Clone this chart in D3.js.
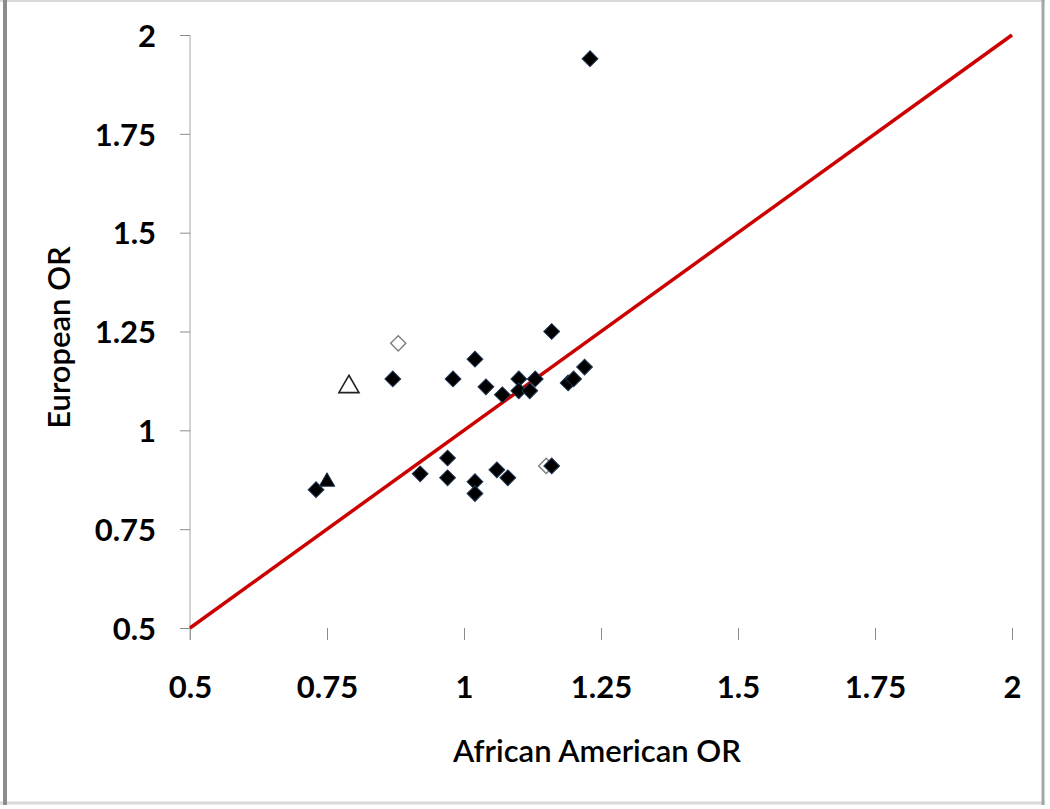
<!DOCTYPE html>
<html>
<head>
<meta charset="utf-8">
<script src="https://cdn.jsdelivr.net/npm/d3@7"></script>
<style>
  body { margin: 0; background: #fff; }
  svg { display: block; }
  .tick text { font-family: Lato, "Open Sans", sans-serif; font-weight: 700; fill: #000; }
</style>
</head>
<body>
<script>
// Values
const xTicks = [0.5, 0.75, 1, 1.25, 1.5, 1.75, 2],
    yTicks = [0.5, 0.75, 1, 1.25, 1.5, 1.75, 2];

// filled black diamonds
const snpX = [1.23, 1.16, 1.02, 0.87, 0.98, 1.04, 1.07, 1.10, 1.13, 1.10, 1.12, 1.19, 1.20, 1.22,
              0.92, 0.97, 0.97, 1.02, 1.02, 1.06, 1.08, 1.16, 0.73];
const snpY = [1.94, 1.25, 1.18, 1.13, 1.13, 1.11, 1.09, 1.13, 1.13, 1.10, 1.10, 1.12, 1.13, 1.16,
              0.89, 0.93, 0.88, 0.87, 0.84, 0.90, 0.88, 0.91, 0.85];
// open diamonds
const openDiamX = [0.88, 1.15],
    openDiamY = [1.22, 0.91];
// open triangle
const openTriX = [0.79],
    openTriY = [1.11];
// filled triangle
const fillTriX = [0.75],
    fillTriY = [0.87];

const width = 1050,
    height = 809;
const margin = {left: 190, right: 38, top: 35, bottom: 181};

const svg = d3.select('body').append('svg')
    .attr('width', width)
    .attr('height', height);

// outer frame like the pasted excel chart
svg.append('rect').attr('x', 0).attr('y', 0).attr('width', width).attr('height', height).attr('fill', '#fff');
svg.append('line').attr('x1', 0).attr('x2', 1045).attr('y1', 1).attr('y2', 1).attr('stroke', '#d9d9d9').attr('stroke-width', 2);
svg.append('line').attr('x1', 0).attr('x2', 1045).attr('y1', 803).attr('y2', 803).attr('stroke', '#d9d9d9').attr('stroke-width', 3);
svg.append('line').attr('x1', 5).attr('x2', 5).attr('y1', 0).attr('y2', 805).attr('stroke', '#8c8c8c').attr('stroke-width', 4);
svg.append('line').attr('x1', 1043).attr('x2', 1043).attr('y1', 0).attr('y2', 805).attr('stroke', '#a6a6a6').attr('stroke-width', 3);

const x = d3.scaleLinear()
    .domain([0.5, 2])
    .range([margin.left, width - margin.right]);
const y = d3.scaleLinear()
    .domain([0.5, 2])
    .range([height - margin.bottom, margin.top]);

// x axis: ticks only, no baseline
const xAxis = svg.append('g')
    .attr('transform', 'translate(0,' + y(0.5) + ')')
    .call(d3.axisBottom(x).tickValues(xTicks).tickFormat(d3.format('')).tickSize(12).tickPadding(36));
xAxis.select('.domain').remove();
xAxis.selectAll('.tick line').attr('stroke', '#8c8c8c');
xAxis.selectAll('.tick text').attr('font-size', 31);

// y axis
const yAxis = svg.append('g')
    .attr('transform', 'translate(' + x(0.5) + ',0)')
    .call(d3.axisLeft(y).tickValues(yTicks).tickFormat(d3.format('')).tickSize(10).tickSizeOuter(0).tickPadding(24));
yAxis.select('.domain').attr('stroke', '#a6a6a6').attr('d', 'M0,' + y(2) + 'V' + (y(0.5) + 12));
yAxis.selectAll('.tick line').attr('stroke', '#8c8c8c');
yAxis.selectAll('.tick text').attr('font-size', 31).attr('dy', '0.36em');

// axis titles
svg.append('text')
    .attr('x', (x(0.5) + x(2)) / 2 - 4)
    .attr('y', 762)
    .attr('text-anchor', 'middle')
    .attr('font-family', 'Lato, "Open Sans", sans-serif')
    .attr('font-weight', 600)
    .attr('font-size', 31)
    .text('African American OR');

svg.append('text')
    .attr('transform', 'translate(70,' + ((y(0.5) + y(2)) / 2 + 6) + ') rotate(-90)')
    .attr('text-anchor', 'middle')
    .attr('font-family', 'Lato, "Open Sans", sans-serif')
    .attr('font-weight', 600)
    .attr('font-size', 31)
    .text('European OR');

// identity line
svg.append('line')
    .attr('x1', x(0.5)).attr('y1', y(0.5))
    .attr('x2', x(2)).attr('y2', y(2))
    .attr('stroke', '#cc0000')
    .attr('stroke-width', 3.5);

const diamond = d3.symbol().type(d3.symbolSquare);
const triangle = d3.symbol().type(d3.symbolTriangle);

function plot(xs, ys, path, fill, stroke, sw, rot) {
    svg.append('g').selectAll('path')
        .data(xs.map((v, i) => [v, ys[i]]))
        .enter()
        .append('path')
        .attr('d', path)
        .attr('transform', d => 'translate(' + x(d[0]) + ',' + y(d[1]) + ') rotate(' + rot + ')')
        .attr('fill', fill)
        .attr('stroke', stroke)
        .attr('stroke-width', sw);
}

plot(openDiamX, openDiamY, diamond.size(115)(), '#fff', '#7f7f7f', 1.4, 45);
plot(snpX, snpY, diamond.size(125)(), '#000', '#1f3552', 1, 45);
plot(openTriX, openTriY, triangle.size(175)(), '#fff', '#222', 1.6, 0);
plot(fillTriX, fillTriY, triangle.size(105)(), '#000', '#1f3552', 1, 0);
</script>
</body>
</html>
